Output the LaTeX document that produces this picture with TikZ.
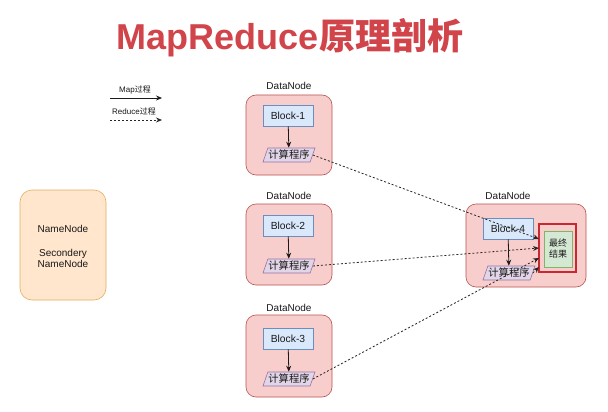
\documentclass[tikz,border=0pt]{standalone}
\usepackage{fontspec}
\setmainfont{Liberation Sans}
\newfontfamily\cjk{Noto Sans CJK SC}
\usetikzlibrary{shapes.geometric,arrows.meta}
\definecolor{titlered}{RGB}{208,68,74}
\definecolor{dnfill}{HTML}{F8CECC}
\definecolor{dnline}{HTML}{B85450}
\definecolor{blfill}{HTML}{DAE8FC}
\definecolor{blline}{HTML}{6C8EBF}
\definecolor{pafill}{HTML}{E1D5E7}
\definecolor{paline}{HTML}{9673A6}
\definecolor{grfill}{HTML}{D5E8D4}
\definecolor{grline}{HTML}{82B366}
\definecolor{nnfill}{HTML}{FFE6CC}
\definecolor{nnline}{HTML}{E0B060}
\definecolor{redbox}{RGB}{200,40,50}
\begin{document}
\begin{tikzpicture}[x=1pt,y=-1pt,
  every node/.style={text=black!90},
  dnbox/.style={draw=dnline, fill=dnfill, rounded corners=10pt, line width=0.6pt},
  dnlabel/.style={font=\fontsize{10}{12}\selectfont},
  blockbox/.style={draw=blline, fill=blfill, line width=0.6pt, minimum width=50pt, minimum height=21pt, inner sep=0pt, font=\fontsize{10.3}{12}\selectfont},
  parabox/.style={trapezium, trapezium left angle=63, trapezium right angle=117, trapezium stretches body, draw=paline, fill=pafill, line width=0.6pt, minimum width=52pt, minimum height=14pt, inner sep=0pt, font=\cjk\fontsize{10.3}{12}\selectfont},
  maparrow/.style={draw=black!90, line width=0.8pt, -{Stealth[length=6pt,width=5pt]}},
  redarrow/.style={draw=black!85, line width=0.8pt, dash pattern=on 2pt off 2pt, -{Stealth[length=6pt,width=5pt]}}
]
\useasboundingbox (0,0) rectangle (608,412);
\fill[white] (0,0) rectangle (608,412);

% title
\node[text=titlered, font=\fontsize{36}{40}\selectfont\bfseries] (title) at (290,38) {MapReduce{\cjk\bfseries 原理剖析}};

% legend
\node[font=\fontsize{8}{9}\selectfont] (lmap) at (135,90) {Map{\cjk 过程}};
\coordinate (lm1) at (110,98);
\coordinate (lm2) at (162,98);
\draw[maparrow] (lm1) -- (lm2);
\node[font=\fontsize{8}{9}\selectfont] (lred) at (134,111) {Reduce{\cjk 过程}};
\coordinate (lr1) at (110,120);
\coordinate (lr2) at (162,120);
\draw[redarrow] (lr1) -- (lr2);

% NameNode
\draw[draw=nnline, fill=nnfill, rounded corners=12pt, line width=0.6pt] (20,190) rectangle (106,300);
\node[font=\fontsize{10}{12}\selectfont, align=center] (nn1) at (63,229) {NameNode};
\node[font=\fontsize{10}{12}\selectfont, align=center] (nn2) at (63,258) {Secondery\\[-1pt]NameNode};

% DataNode 1
\draw[dnbox] (246,95) rectangle (332,175);
\node[dnlabel] (dl1) at (289,86) {DataNode};
\node[blockbox] (b1) at (288,115.5) {Block-1};
\node[parabox] (p1) at (289,155) {计算程序};
\draw[maparrow] (b1) -- (p1);

% DataNode 2
\draw[dnbox] (246,204) rectangle (332,285);
\node[dnlabel] (dl2) at (289,196) {DataNode};
\node[blockbox] (b2) at (288,225.5) {Block-2};
\node[parabox] (p2) at (289,266) {计算程序};
\draw[maparrow] (b2) -- (p2);

% DataNode 3
\draw[dnbox] (246,315) rectangle (332,397);
\node[dnlabel] (dl3) at (289,308) {DataNode};
\node[blockbox] (b3) at (288,338.5) {Block-3};
\node[parabox] (p3) at (289,379) {计算程序};
\draw[maparrow] (b3) -- (p3);

% DataNode 4
\draw[dnbox] (466,204) rectangle (586,287);
\node[dnlabel] (dl4) at (508,196) {DataNode};
\node[blockbox] (b4) at (508,228.5) {Block-4};
\node[parabox] (p4) at (509,273) {计算程序};
\draw[maparrow] (b4) -- (p4);

% result
\draw[draw=redbox, line width=1.6pt] (539,224) rectangle (576,272);
\node[draw=grline, fill=grfill, line width=0.6pt, minimum width=28pt, minimum height=36pt, inner sep=0pt, align=center, font=\cjk\fontsize{9}{11}\selectfont] (res) at (558,249) {最终\\结果};

\coordinate (r1) at (539,239);
\coordinate (r2) at (539,248);
\coordinate (r3) at (539,258);
\coordinate (r4) at (539,267);
\draw[redarrow] (p1.east) -- (r1);
\draw[redarrow] (p2.east) -- (r2);
\draw[redarrow] (p3.east) -- (r3);
\draw[redarrow] (p4.east) -- (r4);
\end{tikzpicture}
\end{document}
